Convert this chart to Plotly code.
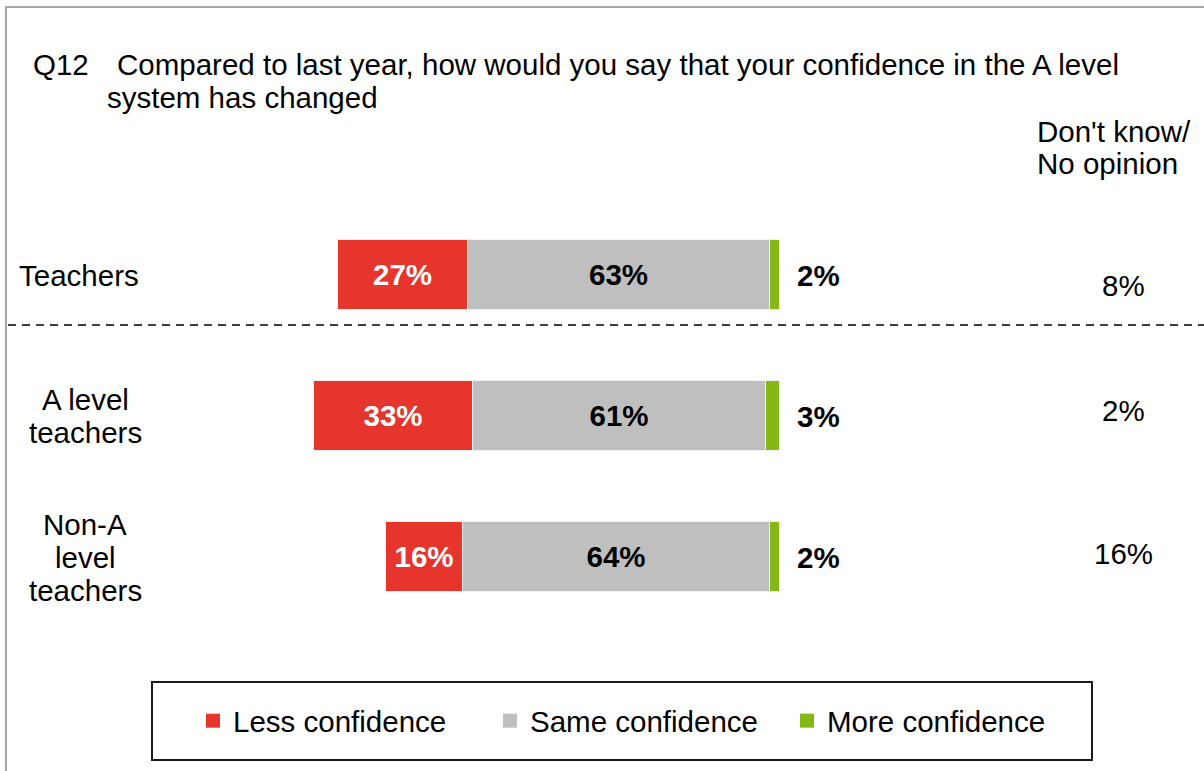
import plotly.graph_objects as go

# Survey results (percent of respondents)
groups = ["Teachers", "A level<br>teachers", "Non-A<br>level<br>teachers"]
less_conf = [27, 33, 16]
same_conf = [63, 61, 64]
more_conf = [2, 3, 2]
dont_know = [8, 2, 16]

series_names = ["Less confidence", "Same confidence", "More confidence"]
title_q = "Q12"
title_line1 = "Compared to last year, how would you say that your confidence in the A level"
title_line2 = "system has changed"
dk_header = ["Don't know/", "No opinion"]

# styling
W, H = 1204, 771
FONT = "Liberation Sans, Arial, sans-serif"
FS = 29.5
RED, GREY, GREEN = "#E5352D", "#BFBFBF", "#84B817"
PX_PER_PCT = 4.8
RIGHT_EDGE_PX = 780
ROW_PX = 141
FIRST_ROW_PX = 275
dk_yshift = [-10, 6, 4]


def px_x(p):
    return p / W


def px_y(p):
    return 1 - p / H


# Bars are right-aligned: each stack ends at zero
totals = [a + b + c for a, b, c in zip(less_conf, same_conf, more_conf)]
base_less = [-t for t in totals]
base_same = [-(b + c) for b, c in zip(same_conf, more_conf)]
base_more = [-c for c in more_conf]

fig = go.Figure()
common = dict(orientation="h", width=70 / ROW_PX, showlegend=False,
              marker_line=dict(color="#F2F2F2", width=1))
fig.add_trace(go.Bar(
    y=groups, x=less_conf, base=base_less, name=series_names[0],
    marker_color=RED, text=[f"{v}%" for v in less_conf],
    textposition="inside", insidetextanchor="middle", textangle=0,
    textfont=dict(family=FONT, size=FS, color="white", weight="bold"),
    **common))
fig.add_trace(go.Bar(
    y=groups, x=same_conf, base=base_same, name=series_names[1],
    marker_color=GREY, text=[f"{v}%" for v in same_conf],
    textposition="inside", insidetextanchor="middle", textangle=0,
    textfont=dict(family=FONT, size=FS, color="black", weight="bold"),
    **common))
fig.add_trace(go.Bar(
    y=groups, x=more_conf, base=base_more, name=series_names[2],
    marker_color=GREEN, textposition="none", **common))

# legend entries with square swatches
for name, col in zip(series_names, [RED, GREY, GREEN]):
    fig.add_trace(go.Scatter(
        x=[None], y=[None], mode="markers", name=name,
        marker=dict(symbol="square", size=14, color=col, line=dict(width=0))))

annotations = []
# value labels to the right of the green segments
for g, b, v in zip(groups, base_more, more_conf):
    annotations.append(dict(
        x=b + v, y=g, xref="x", yref="y", text=f"<b>{v}%</b>",
        xanchor="left", yanchor="middle", xshift=15, showarrow=False,
        font=dict(family=FONT, size=FS, color="black")))

# category labels, one annotation per line
for g in groups:
    lines = g.split("<br>")
    n = len(lines)
    for i, ln in enumerate(lines):
        if n == 1:
            pos = dict(x=px_x(141), xanchor="right")
        else:
            pos = dict(x=px_x(85.5), xanchor="center")
        annotations.append(dict(
            y=g, xref="paper", yref="y", text=ln,
            yanchor="middle", showarrow=False,
            yshift=((n - 1) / 2 - i) * 33,
            font=dict(family=FONT, size=FS, color="black"), **pos))

# don't know column
for i, (g, v) in enumerate(zip(groups, dont_know)):
    annotations.append(dict(
        x=px_x(1123), y=g, xref="paper", yref="y", text=f"{v}%",
        xanchor="center", yanchor="middle", showarrow=False,
        yshift=dk_yshift[i],
        font=dict(family=FONT, size=FS, color="black")))
for i, t in enumerate(dk_header):
    annotations.append(dict(
        x=px_x(1035), y=px_y(131 + 32 * i), xref="paper", yref="paper",
        text=t, xanchor="left", yanchor="middle", showarrow=False,
        font=dict(family=FONT, size=FS, color="black")))

# question title
for x, y, t in [(31, 64, title_q), (115, 64, title_line1), (105, 97, title_line2)]:
    annotations.append(dict(
        x=px_x(x), y=px_y(y), xref="paper", yref="paper", text=t,
        xanchor="left", yanchor="middle", showarrow=False,
        font=dict(family=FONT, size=FS, color="black")))

shapes = [
    # outer frame (top and left edges)
    dict(type="line", xref="paper", yref="paper", x0=px_x(5), x1=1,
         y0=px_y(7), y1=px_y(7), line=dict(color="#A6A6A6", width=2)),
    dict(type="line", xref="paper", yref="paper", x0=px_x(6), x1=px_x(6),
         y0=px_y(7), y1=0, line=dict(color="#A6A6A6", width=2)),
    # separator between total and sub-groups
    dict(type="line", xref="paper", yref="paper", x0=px_x(8), x1=1,
         y0=px_y(325), y1=px_y(325), line=dict(color="black", width=1.5, dash="8px,6px")),
    # legend frame
    dict(type="rect", xref="paper", yref="paper", x0=px_x(152), x1=px_x(1092),
         y0=px_y(760), y1=px_y(682), line=dict(color="#1A1A1A", width=2)),
]

x_lo = -RIGHT_EDGE_PX / PX_PER_PCT
x_hi = (W - RIGHT_EDGE_PX) / PX_PER_PCT
y_top = -FIRST_ROW_PX / ROW_PX
y_bot = (len(groups) - 1) + (H - (FIRST_ROW_PX + (len(groups) - 1) * ROW_PX)) / ROW_PX

fig.update_layout(
    width=W, height=H, margin=dict(l=0, r=0, t=0, b=0, autoexpand=False),
    paper_bgcolor="white", plot_bgcolor="white",
    barmode="overlay", bargap=0,
    xaxis=dict(range=[x_lo, x_hi], visible=False, fixedrange=True),
    yaxis=dict(range=[y_bot, y_top], visible=False, type="category", fixedrange=True),
    showlegend=True,
    legend=dict(orientation="h", x=px_x(193), y=px_y(721), xanchor="left", yanchor="middle",
                entrywidth=252, entrywidthmode="pixels", bgcolor="rgba(0,0,0,0)",
                borderwidth=0, traceorder="normal", itemsizing="trace",
                font=dict(family=FONT, size=FS, color="black")),
    annotations=annotations, shapes=shapes,
)

fig.write_html("out.html")
